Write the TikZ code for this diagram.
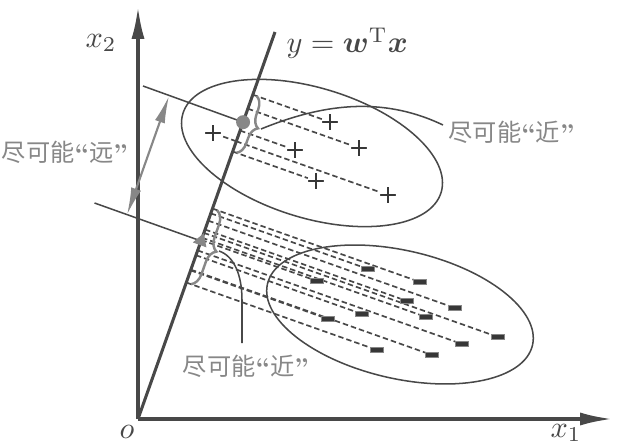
\documentclass[tikz,border=0pt]{standalone}
\usepackage{fontspec}
\usepackage{amsmath}
\newfontfamily\cjkfont{Noto Sans CJK SC}
\usetikzlibrary{arrows.meta,decorations.pathreplacing,shapes.geometric,calc}
\definecolor{ink}{RGB}{72,72,72}
\definecolor{soft}{RGB}{135,135,135}
\definecolor{dot}{RGB}{55,55,55}
\newcommand{\openq}{{\rmfamily\bfseries “}}
\newcommand{\closeq}{{\rmfamily\bfseries ”}}
\begin{document}
\begin{tikzpicture}[x=0.33pt,y=-0.33pt,
  axisline/.style={draw=ink,line width=1pt,-{Latex[length=10.5pt,width=4.3pt]}},
  wline/.style={draw=ink,line width=1pt},
  oval/.style={draw=ink,line width=0.5pt},
  proj/.style={draw=ink,line width=0.55pt,dash pattern=on 1.8pt off 1pt},
  thin/.style={draw=ink,line width=0.5pt},
  plusmark/.style={minimum size=5pt,inner sep=0pt,
    path picture={\draw[dot,line width=0.95pt]
      (path picture bounding box.north) -- (path picture bounding box.south)
      (path picture bounding box.west) -- (path picture bounding box.east);}},
  minusmark/.style={rectangle,fill=dot,draw=soft,line width=0.2pt,minimum width=4.2pt,minimum height=1.7pt,inner sep=0pt},
  bracebar/.style={draw=soft,line width=0.8pt,decorate},
  cn/.style={font=\cjkfont\fontsize{8}{10}\selectfont,text=soft,inner sep=0pt},
  lab/.style={font=\fontsize{10}{12}\selectfont,inner sep=0pt,text=ink},
  dblarrow/.style={draw=soft,line width=0.7pt,{Latex[length=9pt,width=3.4pt]}-{Latex[length=9pt,width=3.4pt]}}
]
\useasboundingbox (0,0) rectangle (617,446);
\fill[white] (0,0) rectangle (617,446);

% key coordinates
\coordinate (O) at (138,419);
\coordinate (W) at (275,32);
\coordinate (X1) at (612,419);
\coordinate (X2) at (138,7);
\coordinate (uc) at (312,153);
\coordinate (lc) at (400,314.5);

% ellipses
\draw[oval,rotate around={-17:(uc)}] (uc) ellipse [x radius=135, y radius=65];
\draw[oval,rotate around={-13:(lc)}] (lc) ellipse [x radius=136, y radius=64];

% data points
\node[plusmark] (p1) at (213,133) {};
\node[plusmark] (p2) at (330,122) {};
\node[plusmark] (p3) at (359,148) {};
\node[plusmark] (p4) at (295,150) {};
\node[plusmark] (p5) at (316,181) {};
\node[plusmark] (p6) at (388,195) {};
\node[minusmark] (n1) at (368,269) {};
\node[minusmark] (n2) at (317,281) {};
\node[minusmark] (n3) at (420,282) {};
\node[minusmark] (n4) at (407,301) {};
\node[minusmark] (n5) at (455,308) {};
\node[minusmark] (n6) at (362,314) {};
\node[minusmark] (n7) at (426,317) {};
\node[minusmark] (n8) at (328,319) {};
\node[minusmark] (n9) at (498,337) {};
\node[minusmark] (n10) at (462,344) {};
\node[minusmark] (n11) at (377,350) {};
\node[minusmark] (n12) at (432,355) {};

% projections
\foreach \p in {p1,p2,p3,p4,p5,p6,n1,n2,n3,n4,n5,n6,n7,n8,n9,n10,n11,n12}
  \draw[proj] ($(O)!(\p)!(W)$) -- (\p);
% redraw markers on top
\foreach \q in {{213,133},{330,122},{359,148},{295,150},{316,181},{388,195}}
  \node[plusmark] at (\q) {};
\foreach \q in {{368,269},{317,281},{420,282},{407,301},{455,308},{362,314},{426,317},{328,319},{498,337},{462,344},{377,350},{432,355}}
  \node[minusmark] at (\q) {};

% axes
\draw[axisline] (O) -- (X1);
\draw[axisline] (O) -- (X2);
\draw[wline] (O) -- (W);

% means and perpendicular lines
\coordinate (um) at ($(O)!0.767!(W)$);
\coordinate (lm) at ($(O)!0.46!(W)$);
\coordinate (ue) at (143,86);
\coordinate (le) at (94.5,203);
\draw[thin] (ue) -- (um);
\draw[thin] (le) -- (lm);
\node[circle,fill=soft,minimum size=4.6pt,inner sep=0pt] (ball) at (um) {};
\node[regular polygon,regular polygon sides=3,fill=soft,minimum size=5.5pt,inner sep=0pt,rotate=-20] (tri) at (lm) {};

% double arrow
\coordinate (da) at (127,214.8);
\coordinate (db) at (169,96);
\draw[dblarrow] (da) -- (db);

% braces
\coordinate (ub1) at (256.6,95.9);
\coordinate (ub2) at (236.5,152.8);
\coordinate (lb1) at (217.2,210.3);
\coordinate (lb2) at (191.0,284.2);
\draw[bracebar,decoration={brace,amplitude=4pt}] (ub1) -- (ub2);
\draw[bracebar,decoration={brace,amplitude=4.3pt}] (lb1) -- (lb2);

% leaders
\coordinate (ut) at (261,129);
\coordinate (ul) at (443,125);
\coordinate (lt) at (219,251);
\coordinate (ll) at (242,343);
\draw[thin] (ut) .. controls (320,105) and (380,95) .. (ul);
\draw[thin] (lt) .. controls (234,256) and (242,275) .. (242,300) -- (ll);

% labels
\node[lab] (lx2) at (101,43) {$x_2$};
\node[lab] (lx1) at (566,433) {$x_1$};
\node[lab] (lo) at (127,432) {$o$};
\node[lab,anchor=base west] (lw) at (286,53) {$y=\boldsymbol{w}^{\mathrm{T}}\boldsymbol{x}$};
\node[cn] (far) at (65,152) {尽可能\openq 远\closeq};
\node[cn,anchor=west] (near1) at (448,132) {尽可能\openq 近\closeq};
\node[cn] (near2) at (246,366) {尽可能\openq 近\closeq};
\end{tikzpicture}
\end{document}
